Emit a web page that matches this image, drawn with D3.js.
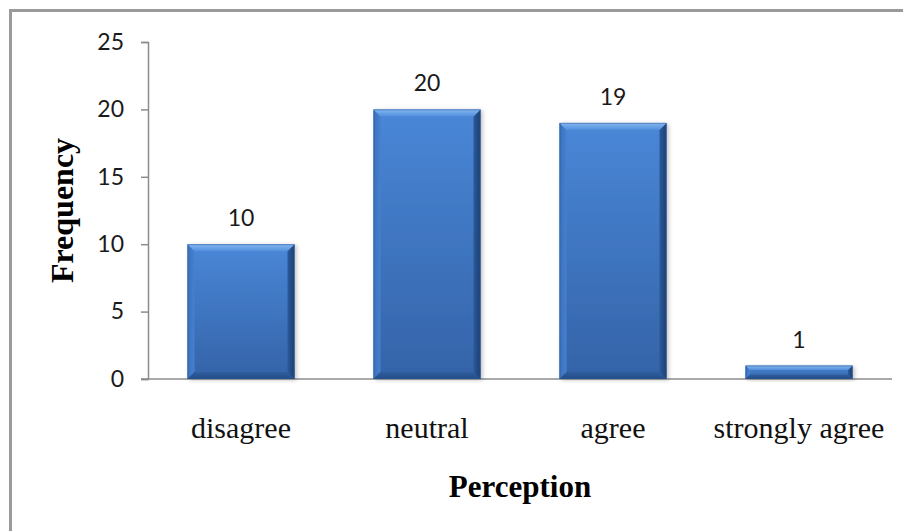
<!DOCTYPE html>
<html>
<head>
<meta charset="utf-8">
<script src="https://cdn.jsdelivr.net/npm/d3@7"></script>
<style>
  html, body { margin: 0; padding: 0; background: #fff; overflow: hidden; }
  svg { display: block; }
</style>
</head>
<body>
<svg id="chart" width="903" height="531"></svg>
<script>
// Survey results: how respondents rated the statement
const categories = ["disagree", "neutral", "agree", "strongly agree"];
const frequencies = [10, 20, 19, 1];
const yTicks = [0, 5, 10, 15, 20, 25];
const xTitle = "Perception";
const yTitle = "Frequency";

const svg = d3.select("#chart");
const W = 903, H = 531;
const margin = { left: 148, right: 11, top: 42, bottom: 152 };

// outer chart frame: only the left and top edges are in view
svg.append("path")
  .attr("d", `M10.5,${H}V10.5H${W}`)
  .attr("fill", "none").attr("stroke", "#9a9a9a").attr("stroke-width", 3);

const x = d3.scaleBand()
  .domain(categories)
  .range([margin.left, W - margin.right])
  .paddingInner(0.425).paddingOuter(0.2125);

const y = d3.scaleLinear()
  .domain([0, 25])
  .range([H - margin.bottom, margin.top]);

const defs = svg.append("defs");
const grad = (id, stops, vertical = true) => {
  const g = defs.append("linearGradient").attr("id", id)
    .attr("x1", 0).attr("y1", 0)
    .attr("x2", vertical ? 0 : 1).attr("y2", vertical ? 1 : 0);
  stops.forEach(([o, c]) => g.append("stop").attr("offset", o).attr("stop-color", c));
};
grad("barBody", [[0, "#4987d7"], [1, "#3463a8"]]);
grad("barTop", [[0, "#86b8f2"], [1, "#518fdc"]]);
grad("barBottom", [[0, "#2f5e9f"], [1, "#234c86"]]);
grad("barLeft", [[0, "#3a71bc"], [1, "#4680cf"]], false);
grad("barRight", [[0, "#2c5a9a"], [1, "#1b3f72"]], false);

const shadow = defs.append("filter").attr("id", "barShadow")
  .attr("x", "-10%").attr("y", "-10%").attr("width", "130%").attr("height", "130%");
shadow.append("feDropShadow").attr("dx", 2).attr("dy", 1)
  .attr("stdDeviation", 2).attr("flood-color", "#000").attr("flood-opacity", 0.25);

// y axis
const yAxis = svg.append("g")
  .attr("transform", `translate(${margin.left},0)`)
  .call(d3.axisLeft(y).tickValues(yTicks).tickSize(7).tickPadding(17));
yAxis.select(".domain").attr("stroke", "#8c8c8c").attr("stroke-width", 1.5);
yAxis.selectAll(".tick line").attr("stroke", "#8c8c8c").attr("stroke-width", 1.5);
yAxis.selectAll(".tick text")
  .attr("font-family", "Lato, 'Open Sans', sans-serif")
  .attr("font-size", 23).attr("fill", "#1a1a1a");

// x axis baseline
const xAxis = svg.append("g")
  .attr("transform", `translate(0,${y(0)})`)
  .call(d3.axisBottom(x).tickSize(0).tickPadding(38));
xAxis.select(".domain").attr("stroke", "#8c8c8c").attr("stroke-width", 1.5)
  .attr("d", `M${margin.left - 7},0H${W - margin.right}`);
xAxis.selectAll(".tick text")
  .attr("font-family", "'Liberation Serif', 'Times New Roman', serif")
  .attr("font-size", 30).attr("fill", "#111");

// bevelled bars
const rows = categories.map((c, i) => ({ c, v: frequencies[i] }));
const bars = svg.append("g").selectAll("g.bar")
  .data(rows)
  .join("g").attr("class", "bar");

bars.each(function (d) {
  const g = d3.select(this);
  const x0 = x(d.c), w = x.bandwidth();
  const y0 = y(d.v), h = y(0) - y0;
  const b = Math.min(7, h / 3);
  const x1 = x0 + w, y1 = y0 + h;
  g.append("rect").attr("x", x0).attr("y", y0).attr("width", w).attr("height", h)
    .attr("fill", "url(#barBody)").attr("filter", "url(#barShadow)");
  g.append("path").attr("fill", "url(#barLeft)")
    .attr("d", `M${x0},${y0}L${x0 + b},${y0 + b}L${x0 + b},${y1 - b}L${x0},${y1}Z`);
  g.append("path").attr("fill", "url(#barRight)")
    .attr("d", `M${x1},${y0}L${x1 - b},${y0 + b}L${x1 - b},${y1 - b}L${x1},${y1}Z`);
  g.append("path").attr("fill", "url(#barBottom)")
    .attr("d", `M${x0},${y1}L${x0 + b},${y1 - b}L${x1 - b},${y1 - b}L${x1},${y1}Z`);
  g.append("path").attr("fill", "url(#barTop)")
    .attr("d", `M${x0},${y0}L${x1},${y0}L${x1 - b},${y0 + b}L${x0 + b},${y0 + b}Z`);
  g.append("rect").attr("x", x0 + 0.5).attr("y", y0 + 0.5)
    .attr("width", w - 1).attr("height", h - 1)
    .attr("fill", "none").attr("stroke", "#2a5593").attr("stroke-opacity", 0.5);
});

// value labels above each bar
svg.append("g").selectAll("text")
  .data(rows)
  .join("text")
  .attr("x", d => x(d.c) + x.bandwidth() / 2)
  .attr("y", d => y(d.v) - 18)
  .attr("text-anchor", "middle")
  .attr("font-family", "Lato, 'Open Sans', sans-serif")
  .attr("font-size", 23).attr("fill", "#1a1a1a")
  .text(d => d.v);

// axis titles
svg.append("text")
  .attr("x", (margin.left + W - margin.right) / 2).attr("y", 497)
  .attr("text-anchor", "middle")
  .attr("font-family", "'Liberation Serif', 'Times New Roman', serif")
  .attr("font-weight", "bold").attr("font-size", 31).attr("fill", "#000")
  .text(xTitle);

svg.append("text")
  .attr("transform", `translate(73,${(y(0) + y(25)) / 2}) rotate(-90)`)
  .attr("text-anchor", "middle")
  .attr("font-family", "'Liberation Serif', 'Times New Roman', serif")
  .attr("font-weight", "bold").attr("font-size", 32).attr("fill", "#000")
  .text(yTitle);
</script>
</body>
</html>
